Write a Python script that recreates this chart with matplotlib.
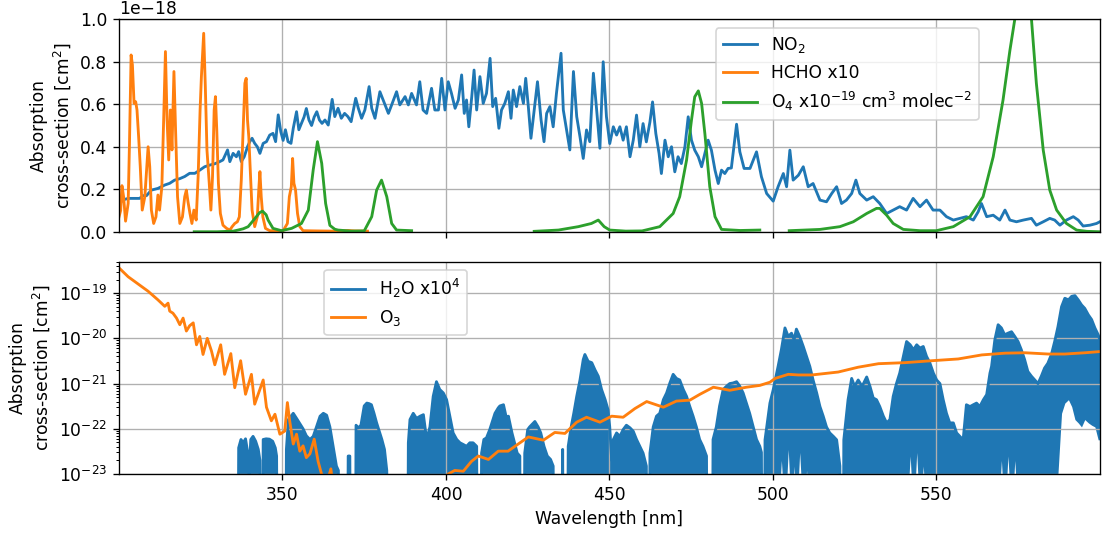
import matplotlib.pyplot as plt
import numpy as np

nan = np.nan
G = 1e-24  # below the floor of the log axis (no visible absorption)

# ---- top panel, values in units of 1e-18 cm^2 ----
no2_wl = [300.0, 301.2, 302.8, 304.8, 306.3, 307.3, 308.4, 309.9, 311.9, 314.0,
          315.5, 317.0, 318.6, 320.1, 321.6, 323.2, 324.7, 326.2, 327.8, 329.3,
          330.8, 331.8, 333.2, 333.9, 334.9, 335.9, 336.6, 337.4, 338.3, 339.3,
          340.0, 340.7, 341.5, 342.3, 343.1, 344.1, 345.1, 346.1, 347.1, 347.9,
          348.7, 349.5, 350.2, 350.9, 351.7, 352.6, 353.3, 354.3, 355.0, 355.8,
          356.6, 357.3, 358.1, 358.9, 359.7, 360.5, 361.3, 362.1, 363.0, 364.0,
          365.2, 366.0, 367.0, 368.0, 369.0, 370.0, 371.0, 372.4, 373.2, 374.2,
          375.2, 376.5, 377.3, 378.3, 379.8, 380.8, 382.4, 383.4, 384.9, 385.9,
          387.5, 388.5, 389.5, 391.0, 392.0, 393.0, 394.1, 395.6, 396.6, 397.7,
          398.7, 399.7, 400.7, 401.7, 402.8, 403.8, 404.8, 405.6, 406.3, 407.0,
          407.9, 408.6, 409.4, 410.4, 411.4, 412.4, 413.5, 414.3, 415.2, 416.2,
          417.0, 418.0, 419.1, 419.9, 420.6, 421.6, 422.6, 423.7, 424.4, 425.2,
          426.0, 427.0, 428.0, 429.1, 430.0, 430.8, 431.8, 432.8, 433.8, 435.2,
          435.9, 436.9, 437.9, 439.0, 440.0, 441.0, 442.0, 443.0, 444.0, 445.1,
          446.1, 447.1, 448.1, 449.1, 450.1, 451.2, 452.2, 453.2, 454.2, 455.2,
          456.3, 457.3, 458.3, 459.3, 460.3, 461.3, 462.4, 463.2, 464.2, 465.2,
          465.9, 467.0, 468.0, 469.0, 470.0, 471.0, 472.0, 473.1, 474.1, 475.1,
          476.1, 477.2, 478.2, 479.2, 480.2, 481.2, 482.3, 483.3, 484.3, 485.3,
          486.3, 487.3, 488.9, 489.9, 491.2, 493.0, 495.0, 496.5, 498.1, 500.1,
          501.6, 503.2, 504.2, 505.2, 506.2, 507.8, 509.3, 510.8, 512.3, 514.4,
          516.4, 518.0, 519.5, 521.0, 522.5, 524.1, 525.4, 526.6, 528.7, 530.7,
          532.7, 534.8, 536.8, 538.8, 540.9, 542.9, 545.0, 547.0, 549.0, 551.1,
          553.1, 555.2, 557.2, 559.2, 561.3, 562.8, 563.8, 565.4, 567.4, 569.4,
          571.0, 572.5, 574.5, 576.6, 579.1, 580.6, 582.7, 584.7, 586.2, 587.8,
          589.8, 591.9, 593.4, 594.9, 597.0, 599.0, 600.0]
no2 = [0.13, 0.15, 0.157, 0.157, 0.157, 0.17, 0.17, 0.196, 0.204, 0.22,
       0.228, 0.243, 0.25, 0.26, 0.275, 0.275, 0.29, 0.306, 0.314, 0.32,
       0.33, 0.338, 0.385, 0.33, 0.369, 0.353, 0.377, 0.33, 0.353, 0.40,
       0.424, 0.44, 0.416, 0.40, 0.369, 0.416, 0.424, 0.455, 0.463, 0.424,
       0.55, 0.47, 0.43, 0.48, 0.424, 0.416, 0.487, 0.565, 0.48, 0.51,
       0.54, 0.58, 0.526, 0.50, 0.54, 0.565, 0.526, 0.51, 0.526, 0.502,
       0.623, 0.542, 0.581, 0.534, 0.557, 0.542, 0.518, 0.628, 0.581, 0.534,
       0.573, 0.683, 0.581, 0.534, 0.659, 0.62, 0.557, 0.597, 0.659, 0.597,
       0.636, 0.597, 0.651, 0.597, 0.706, 0.573, 0.557, 0.675, 0.573, 0.573,
       0.722, 0.573, 0.706, 0.651, 0.581, 0.62, 0.738, 0.557, 0.62, 0.494,
       0.636, 0.761, 0.573, 0.73, 0.604, 0.651, 0.816, 0.589, 0.628, 0.487,
       0.573, 0.604, 0.659, 0.534, 0.667, 0.589, 0.683, 0.604, 0.722, 0.589,
       0.44, 0.573, 0.706, 0.526, 0.424, 0.557, 0.589, 0.494, 0.651, 0.84,
       0.573, 0.479, 0.385, 0.754, 0.542, 0.447, 0.345, 0.479, 0.424, 0.746,
       0.573, 0.393, 0.80, 0.541, 0.415, 0.494, 0.455, 0.494, 0.431, 0.494,
       0.353, 0.431, 0.549, 0.40, 0.509, 0.423, 0.517, 0.611, 0.462, 0.368,
       0.274, 0.431, 0.353, 0.40, 0.282, 0.353, 0.321, 0.40, 0.541, 0.431,
       0.384, 0.353, 0.306, 0.368, 0.431, 0.384, 0.29, 0.227, 0.29, 0.274,
       0.298, 0.30, 0.506, 0.376, 0.298, 0.298, 0.376, 0.259, 0.18, 0.144,
       0.212, 0.274, 0.212, 0.384, 0.243, 0.266, 0.306, 0.212, 0.227, 0.149,
       0.141, 0.18, 0.212, 0.133, 0.149, 0.18, 0.243, 0.18, 0.149, 0.165,
       0.133, 0.086, 0.102, 0.118, 0.102, 0.157, 0.118, 0.149, 0.102, 0.102,
       0.071, 0.055, 0.063, 0.071, 0.055, 0.094, 0.133, 0.071, 0.078, 0.055,
       0.102, 0.055, 0.047, 0.055, 0.063, 0.031, 0.047, 0.063, 0.055, 0.031,
       0.055, 0.071, 0.055, 0.027, 0.031, 0.039, 0.047]

hcho_wl = [300.0, 300.5, 300.9, 301.4, 302.0, 302.8, 303.2, 303.7, 304.1, 304.6,
           305.1, 305.5, 306.0, 306.5, 307.1, 307.9, 308.5, 308.9, 309.4, 309.9,
           310.6, 311.3, 311.9, 312.4, 313.1, 313.6, 314.2, 314.7, 315.2, 315.7,
           316.2, 316.8, 317.3, 317.9, 318.6, 319.4, 320.1, 320.6, 321.1, 321.7,
           322.3, 322.9, 323.6, 324.2, 324.8, 325.2, 325.9, 326.4, 326.9, 327.6,
           328.1, 328.6, 329.1, 329.5, 329.9, 330.4, 331.0, 331.8, 332.9, 333.9,
           334.6, 335.4, 336.2, 336.8, 337.4, 338.0, 338.5, 338.9, 339.3, 339.7,
           340.1, 340.7, 341.5, 342.3, 342.8, 343.1, 343.5, 344.0, 344.8, 346.1,
           348.2, 350.2, 351.5, 352.1, 352.7, 353.1, 353.5, 354.0, 354.6, 355.3,
           356.3, 360.0, 365.0, 370.0, 372.0, 376.0]
hcho = [0.07, 0.10, 0.217, 0.165, 0.05, 0.133, 0.416, 0.832, 0.785, 0.604,
        0.612, 0.573, 0.447, 0.306, 0.102, 0.165, 0.306, 0.40, 0.306, 0.102,
        0.039, 0.07, 0.173, 0.102, 0.212, 0.495, 0.848, 0.526, 0.338, 0.573,
        0.385, 0.754, 0.479, 0.165, 0.039, 0.07, 0.165, 0.196, 0.141, 0.086,
        0.039, 0.102, 0.055, 0.259, 0.573, 0.73, 0.934, 0.683, 0.385, 0.228,
        0.102, 0.259, 0.573, 0.636, 0.479, 0.228, 0.086, 0.031, 0.016, 0.008,
        0.024, 0.039, 0.047, 0.07, 0.243, 0.495, 0.699, 0.722, 0.526, 0.447,
        0.306, 0.102, 0.024, 0.07, 0.212, 0.283, 0.165, 0.07, 0.016, 0.005,
        0.005, 0.005, 0.039, 0.165, 0.212, 0.345, 0.228, 0.196, 0.086, 0.024,
        0.005, 0.004, 0.003, 0.006, 0.004, 0.003]

o4_wl = [323.0, 330.0, 335.0, 336.4, 338.0, 339.5, 341.6, 343.0, 343.9, 345.0,
         345.6, 347.1, 349.7, 352.8, 355.8, 357.9, 359.4, 360.7, 362.0, 363.2,
         364.5, 366.0, 367.0, 371.0, 375.0, 377.3, 378.8, 380.3, 381.9, 383.4,
         384.9, 389.5, 389.6, 426.9, 427.0, 434.4, 440.5, 444.5, 446.6, 448.4,
         450.1, 455.0, 460.0, 465.4, 469.5, 471.5, 473.6, 475.1, 476.1, 477.2,
         478.2, 479.2, 480.7, 482.3, 484.3, 490.0, 496.0, 496.1, 504.9, 505.0,
         514.4, 520.5, 524.6, 528.7, 531.7, 532.7, 534.8, 536.8, 539.9, 545.0,
         550.0, 555.2, 560.3, 564.3, 567.4, 570.4, 572.5, 574.0, 575.0, 576.6,
         578.2, 579.1, 580.6, 582.7, 584.7, 586.8, 589.8, 592.9, 596.0, 600.0]
o4 = [0.0, 0.0, 0.003, 0.008, 0.014, 0.024, 0.063, 0.09, 0.097, 0.08,
      0.055, 0.016, 0.005, 0.016, 0.039, 0.102, 0.291, 0.424, 0.322, 0.133,
      0.03, 0.012, 0.008, 0.003, 0.004, 0.071, 0.196, 0.243, 0.165, 0.039,
      0.008, 0.005, nan, nan, 0.002, 0.008, 0.024, 0.039, 0.055, 0.024,
      0.008, 0.003, 0.004, 0.024, 0.086, 0.165, 0.337, 0.525, 0.635, 0.663,
      0.604, 0.462, 0.212, 0.071, 0.011, 0.006, 0.008, nan, nan, 0.005,
      0.011, 0.024, 0.047, 0.086, 0.110, 0.110, 0.078, 0.039, 0.011, 0.005,
      0.005, 0.024, 0.071, 0.165, 0.353, 0.62, 0.853, 1.0, 1.12, 1.17,
      1.1, 1.0, 0.698, 0.384, 0.196, 0.102, 0.039, 0.008, 0.002, 0.0]

# ---- bottom panel, cm^2 ----
h2o_wl = [336.5, 336.6, 337.3, 338.0, 338.7, 339.4, 339.8, 340.3, 341.0, 341.8,
          342.6, 343.1, 343.2, 344.0, 344.1, 345.0, 346.0, 347.0, 347.8, 348.2,
          348.3, 351.1, 351.2, 351.8, 353.3, 354.3, 355.3, 356.3, 357.3, 358.4,
          359.4, 360.4, 361.5, 362.5, 363.5, 364.5, 365.5, 366.5, 367.1, 367.2,
          370.0, 370.1, 370.6, 370.7, 372.4, 372.5, 373.2, 374.0, 375.0, 375.8,
          376.5, 377.2, 378.0, 378.8, 379.6, 380.4, 381.2, 381.9, 382.0, 388.4,
          388.5, 389.0, 390.0, 391.0, 392.1, 393.1, 394.1, 395.1, 396.1, 397.1,
          398.1, 399.2, 400.2, 401.2, 402.2, 403.3, 404.3, 405.3, 406.3, 407.3,
          408.3, 409.4, 409.5, 410.8, 410.9, 411.6, 412.4, 413.4, 414.4, 415.0,
          416.0, 416.5, 417.6, 418.6, 419.1, 420.2, 421.0, 421.8, 422.6, 422.7,
          424.0, 424.1, 425.0, 425.6, 427.2, 428.2, 429.0, 430.0, 431.0, 432.0,
          432.8, 432.9, 435.6, 435.7, 435.8, 437.3, 437.4, 438.3, 439.1, 440.0,
          441.0, 442.0, 442.5, 443.5, 444.6, 445.6, 446.6, 447.6, 448.7, 449.6,
          450.1, 450.7, 451.2, 452.2, 453.2, 454.2, 455.2, 456.3, 457.3, 458.3,
          459.3, 460.3, 461.3, 461.4, 462.3, 462.4, 463.4, 464.4, 465.4, 466.5,
          467.5, 468.5, 469.5, 470.5, 471.5, 472.6, 473.6, 474.6, 475.6, 476.6,
          477.6, 478.6, 479.7, 479.8, 481.6, 481.7, 482.7, 483.7, 484.8, 485.8,
          486.8, 487.8, 488.9, 489.9, 490.9, 491.9, 492.9, 494.0, 495.0, 496.0,
          496.5, 496.6, 497.5, 497.6, 499.1, 500.1, 501.6, 502.6, 503.7, 504.7,
          505.7, 506.5, 507.2, 508.2, 509.3, 510.3, 511.3, 512.3, 513.4, 514.4,
          515.4, 516.4, 517.4, 518.5, 519.5, 520.5, 520.6, 521.6, 521.7, 523.0,
          524.1, 525.0, 526.1, 527.3, 528.7, 529.7, 530.7, 531.7, 532.7, 533.8,
          534.8, 535.8, 536.8, 537.8, 538.8, 539.9, 540.9, 542.0, 543.0, 544.0,
          545.0, 546.0, 547.0, 548.0, 549.1, 550.1, 551.1, 552.1, 553.1, 554.1,
          555.2, 556.2, 557.2, 558.2, 559.2, 560.3, 561.3, 562.3, 563.3, 564.4,
          565.4, 566.4, 566.9, 567.9, 568.9, 569.9, 570.9, 571.9, 573.0, 574.0,
          575.0, 576.0, 577.0, 578.0, 579.1, 580.1, 581.1, 582.1, 583.1, 584.1,
          585.2, 586.2, 587.2, 588.3, 589.3, 590.4, 591.4, 592.4, 593.4, 594.4,
          595.4, 596.5, 597.5, 598.5, 599.5, 600.0]
# upper edge of the dense line forest
h2o_top = [G, 3.8e-23, 5.8e-23, 4.9e-23, 6.0e-23, 2.9e-23, 1.0e-23, 5.8e-23, 6.8e-23, 5.3e-23,
           3.5e-23, 2.0e-23, G, G, 5.8e-23, 6.0e-23, 5.9e-23, 5.3e-23, 3.8e-23, 2.5e-23,
           G, G, 3.5e-23, 1.6e-22, 2.2e-22, 1.7e-22, 1.3e-22, 1.0e-22, 7.0e-23, 5.8e-23,
           6.8e-23, 1.1e-22, 1.9e-22, 2.2e-22, 2.0e-22, 1.1e-22, 4.1e-23, 1.5e-23, 1.2e-23, G,
           G, 2.5e-23, 2.5e-23, G, G, 1.2e-22, 1.05e-22, 1.2e-22, 3.2e-22, 3.7e-22,
           3.6e-22, 3.4e-22, 2.2e-22, 1.35e-22, 8.8e-23, 5.8e-23, 3.5e-23, 1.2e-23, G, G,
           4.9e-23, 1.6e-22, 2.2e-22, 1.7e-22, 1.9e-22, 2.05e-22, 5.8e-23, 1.1e-22, 5.2e-22, 1.1e-21,
           7.4e-22, 6.2e-22, 4.4e-22, 1.9e-22, 8.1e-23, 5.8e-23, 4.9e-23, 4.5e-23, 4.1e-23, 4.9e-23,
           4.9e-23, 4.1e-23, G, G, 2.9e-23, 5.8e-23, 6.3e-23, 9.6e-23, 1.6e-22, 2.2e-22,
           2.9e-22, 3.2e-22, 3.4e-22, 1.6e-22, 1.9e-22, 8.1e-23, 4.9e-23, 2.9e-23, 2.5e-23, G,
           G, 2.9e-23, 9.6e-23, 1.1e-22, 1.45e-22, 1.1e-22, 8.1e-23, 4.1e-23, 2.5e-23, 2.1e-23,
           1.5e-23, G, G, 3.5e-23, G, G, 4.1e-23, 1.1e-22, 2.2e-22, 5.2e-22,
           1.2e-21, 3.4e-21, 4.4e-21, 3.1e-21, 2.9e-21, 2.0e-21, 1.45e-21, 7.4e-22, 4.4e-22, 2.6e-22,
           1.1e-22, 2.0e-23, 5.8e-23, 8.1e-23, 6.8e-23, 9.6e-23, 1.2e-22, 1.05e-22, 8.8e-23, 5.8e-23,
           4.1e-23, 2.9e-23, 1.5e-23, G, G, 2.9e-23, 1.1e-22, 1.9e-22, 2.2e-22, 4.4e-22,
           6.2e-22, 1.03e-21, 1.6e-21, 1.3e-21, 1.2e-21, 7.4e-22, 5.2e-22, 3.1e-22, 1.9e-22, 1.1e-22,
           5.8e-23, 4.1e-23, 2.5e-23, G, G, 5.8e-23, 1.1e-22, 3.2e-22, 7.4e-22, 8.7e-22,
           1.0e-21, 1.03e-21, 1.1e-21, 8.7e-22, 6.2e-22, 3.7e-22, 2.2e-22, 1.1e-22, 5.8e-23, 4.1e-23,
           3.0e-23, G, G, 5.7e-23, 3.7e-22, 7.3e-22, 2.4e-21, 5.6e-21, 1.7e-20, 1.1e-20,
           1.3e-20, 9.3e-21, 1.6e-20, 1.1e-20, 6.6e-21, 4.0e-21, 2.4e-21, 1.2e-21, 6.2e-22, 3.1e-22,
           1.9e-22, 1.1e-22, 8.1e-23, 6.8e-23, 5.7e-23, 1.5e-23, G, G, 5.7e-23, 4.4e-22,
           1.3e-21, 8.7e-22, 1.2e-21, 8.7e-22, 1.4e-21, 8.7e-22, 4.8e-22, 4.4e-22, 3.1e-22, 1.9e-22,
           1.35e-22, 1.6e-22, 5.2e-22, 1.0e-21, 1.7e-21, 4.0e-21, 8.5e-21, 7.2e-21, 5.6e-21, 7.2e-21,
           6.1e-21, 6.6e-21, 4.0e-21, 2.9e-21, 1.7e-21, 1.2e-21, 1.0e-21, 4.4e-22, 2.2e-22, 1.35e-22,
           1.35e-22, 8.1e-23, 6.8e-23, 5.7e-23, 3.4e-22, 3.1e-22, 3.4e-22, 3.7e-22, 3.1e-22, 4.4e-22,
           5.7e-22, 1.7e-21, 2.4e-21, 9.3e-21, 2.0e-20, 1.7e-20, 1.2e-20, 1.3e-20, 1.4e-20, 1.1e-20,
           8.5e-21, 5.6e-21, 3.4e-21, 1.85e-21, 1.45e-21, 1.2e-21, 1.0e-21, 1.45e-21, 2.2e-21, 2.8e-21,
           4.4e-21, 8.5e-21, 1.8e-20, 5.0e-20, 7.7e-20, 7.1e-20, 8.5e-20, 8.8e-20, 7.1e-20, 5.5e-20,
           4.6e-20, 3.3e-20, 2.6e-20, 1.7e-20, 1.2e-20, 9.3e-21]
# lower edge of the line forest (mostly below the axis floor)
h2o_base = [G] * 180 + [
            G, G, G, G, G, G, G, 2.0e-23, G, 3.5e-23,
            G, 1.5e-23, G, 3.0e-23, G, 1.2e-23, G, G, G, G,
            G, G, G, G, G, G, G, G, G, G,
            G, G, G, G, G, G, G, G, G, G,
            G, G, G, G, G, G, G, 2.5e-23, G, 3.0e-23,
            G, 1.5e-23, G, G, G, G, G, G, G, G,
            G, G, G, G, G, G, G, G, G, G,
            G, G, G, G, G, 2.0e-23, G, 2.5e-23, G, 2.0e-23,
            G, G, G, G, G, G, G, G, G, G,
            G, G, 1.0e-23, 2.2e-22, 3.7e-22, 4.4e-22, 3.1e-22, 1.6e-22, 1.35e-22, 1.1e-22,
            1.6e-22, 1.35e-22, 1.2e-22, 1.1e-22, 5.7e-23, 5.7e-23]

o3_wl = [300.2, 302.8, 305.8, 308.9, 311.9, 314.0, 315.0, 315.5, 316.5, 317.6,
         318.6, 319.6, 320.6, 321.6, 322.7, 323.7, 324.7, 325.7, 327.0, 328.3,
         329.3, 331.1, 332.3, 334.2, 335.4, 337.2, 338.7, 340.5, 341.5, 344.1,
         345.1, 346.6, 347.7, 349.2, 350.7, 351.5, 352.2, 353.3, 354.3, 355.3,
         356.3, 357.3, 358.4, 359.7, 360.9, 362.1, 363.0, 364.0, 364.8, 365.5,
         370.0, 385.0, 398.0, 400.7, 402.7, 405.3, 407.8, 409.9, 413.0, 416.0,
         419.0, 422.1, 425.2, 429.8, 433.3, 436.4, 440.0, 443.0, 447.1, 450.7,
         454.2, 457.8, 461.4, 466.5, 470.5, 474.6, 477.7, 481.8, 486.8, 491.9,
         496.0, 499.1, 500.7, 504.7, 507.8, 511.9, 520.0, 526.1, 532.3, 540.4,
         548.6, 556.7, 563.9, 571.0, 577.1, 584.2, 589.3, 595.5, 600.0]
o3 = [3.5e-19, 2.3e-19, 1.6e-19, 1.1e-19, 7.1e-20, 5.1e-20, 6.0e-20, 4.0e-20, 3.6e-20, 2.8e-20,
      2.0e-20, 2.8e-20, 1.45e-20, 1.9e-20, 2.2e-20, 7.2e-21, 1.1e-20, 4.4e-21, 1.0e-20, 5.2e-21,
      2.6e-21, 7.2e-21, 1.6e-21, 4.6e-21, 8.1e-22, 3.2e-21, 5.8e-22, 1.6e-21, 3.5e-22, 1.2e-21,
      3.0e-22, 1.5e-22, 2.1e-22, 7.6e-23, 8.9e-23, 3.8e-22, 1.5e-22, 4.6e-23, 7.6e-23, 3.2e-23,
      4.2e-23, 2.3e-23, 2.8e-23, 5.9e-23, 1.9e-23, 9.1e-24, 5e-24, 8e-24, 1.3e-23, 5e-24,
      3e-24, 2e-24, 5e-24, 1.0e-23, 1.2e-23, 1.15e-23, 1.9e-23, 2.5e-23, 2.1e-23, 3.2e-23,
      3.2e-23, 4.6e-23, 6.6e-23, 5.6e-23, 8.3e-23, 7.9e-23, 1.4e-22, 1.8e-22, 1.4e-22, 1.9e-22,
      1.8e-22, 2.8e-22, 4.0e-22, 3.0e-22, 4.1e-22, 4.3e-22, 5.8e-22, 8.3e-22, 7.1e-22, 8.3e-22,
      9.1e-22, 1.07e-21, 1.3e-21, 1.6e-21, 1.55e-21, 1.55e-21, 1.8e-21, 2.3e-21, 2.75e-21, 2.9e-21,
      3.2e-21, 3.5e-21, 4.3e-21, 4.7e-21, 4.8e-21, 4.5e-21, 4.5e-21, 4.8e-21, 5.1e-21]

plt.rcParams['font.size'] = 10.3
plt.rcParams['lines.linewidth'] = 1.7

fig, (ax1, ax2) = plt.subplots(2, 1, sharex=True, figsize=(1102 / 120, 535 / 120), dpi=120)
fig.subplots_adjust(left=0.108, right=0.998, top=0.964, bottom=0.114, hspace=0.14)

ax1.plot(no2_wl, np.array(no2) * 1e-18, label='NO$_2$')
ax1.plot(hcho_wl, np.array(hcho) * 1e-18, label='HCHO x10')
ax1.plot(o4_wl, np.array(o4) * 1e-18, label='O$_4$ x10$^{-19}$ cm$^3$ molec$^{-2}$')
ax1.set_ylim(0, 1e-18)
ax1.set_ylabel('Absorption\ncross-section [cm$^2$]')
ax1.grid(True)
ax1.legend(loc='upper left', bbox_to_anchor=(0.6086, 0.958), borderaxespad=0)

ax2.fill_between(h2o_wl, h2o_base, h2o_top, color='C0', linewidth=0)
ax2.plot(h2o_wl, h2o_top, color='C0', label='H$_2$O x10$^4$')
ax2.plot(o3_wl, o3, color='C1', label='O$_3$')
ax2.set_yscale('log')
ax2.set_ylim(1e-23, 5e-19)
ax2.set_xlim(300, 600)
ax2.set_xticks([350, 400, 450, 500, 550])
ax2.set_ylabel('Absorption\ncross-section [cm$^2$]')
ax2.set_xlabel('Wavelength [nm]')
ax2.grid(True)
ax2.legend(loc='upper left', bbox_to_anchor=(0.2093, 0.962), borderaxespad=0)

fig.savefig('out.png', dpi=120)
